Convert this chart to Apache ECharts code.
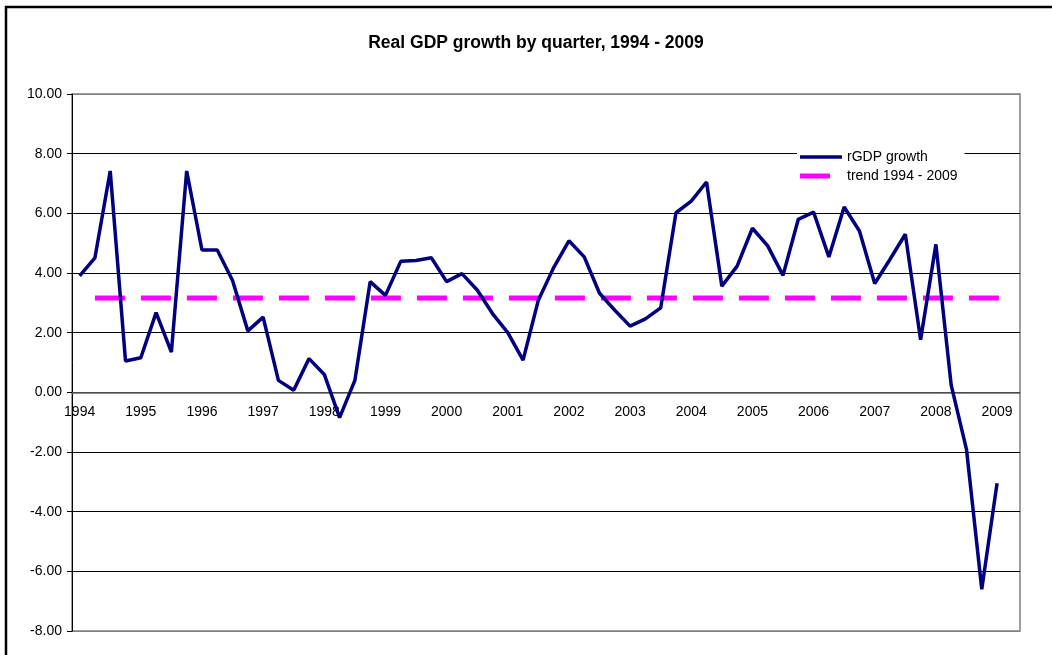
<!DOCTYPE html>
<html>
<head>
<meta charset="utf-8">
<script src="https://cdn.jsdelivr.net/npm/echarts@6/dist/echarts.min.js"></script>
<style>
  html, body { margin: 0; padding: 0; background: #fff; }
  #main { width: 1052px; height: 655px; }
</style>
</head>
<body>
<div id="main"></div>
<script>
// year labels shown under the axis (one per four quarters)
var years = ['1994', '1995', '1996', '1997', '1998', '1999', '2000', '2001',
    '2002', '2003', '2004', '2005', '2006', '2007', '2008', '2009'];
var quarterNames = ['Q1', 'Q2', 'Q3', 'Q4'];

// real GDP growth, 1994 Q1 .. 2009 Q1
var rgdpGrowth = [
    3.90, 4.51, 7.42, 1.05, 1.16, 2.67, 1.35, 7.42,
    4.77, 4.77, 3.75, 2.06, 2.52, 0.40, 0.07, 1.13,
    0.60, -0.85, 0.40, 3.71, 3.25, 4.39, 4.42, 4.51,
    3.71, 3.98, 3.43, 2.64, 2.00, 1.08, 3.09, 4.18,
    5.08, 4.54, 3.32, 2.75, 2.22, 2.46, 2.83, 6.02,
    6.41, 7.05, 3.56, 4.23, 5.50, 4.91, 3.92, 5.80,
    6.04, 4.54, 6.21, 5.41, 3.65, 4.46, 5.30, 1.76,
    4.96, 0.24, -1.91, -6.60, -3.05
];

// trend average, drawn one quarter to the right as in the original sheet
var trendValue = 3.16;

var yMin = -8, yMax = 10;

window.onload = function() {
    var chartBox = document.getElementById('main'),
        myChart = echarts.init(chartBox),
        option;

    var categories = [];
    years.forEach(function(y) {
        quarterNames.forEach(function(q) {
            categories.push(y + ' ' + q);
        });
    });
    categories = categories.slice(0, 62);

    var trendData = categories.map(function(c, i) {
        return i === 0 ? null : trendValue;
    });

    // move the category axis up to the zero line
    var gridTop = 94, gridBottom = 24;
    var plotH = 655 - gridTop - gridBottom;
    var zeroShift = plotH * (0 - yMin) / (yMax - yMin);

    option = {
        animation: false,
        backgroundColor: '#fff',
        textStyle: { fontFamily: 'Liberation Sans, Arial, sans-serif' },
        title: {
            text: 'Real GDP growth by quarter, 1994 - 2009',
            left: 531,
            textAlign: 'center',
            top: 29,
            textStyle: { fontSize: 17.5, fontWeight: 'bold', color: '#000' }
        },
        graphic: [{
            type: 'rect',
            shape: { x: 6, y: 7, width: 1200, height: 800 },
            style: { fill: 'none', stroke: '#000', lineWidth: 2.5 },
            silent: true
        }],
        legend: {
            orient: 'vertical',
            left: 797,
            top: 145,
            padding: [5, 7, 5, 3],
            backgroundColor: '#fff',
            itemWidth: 42,
            itemHeight: 14,
            itemGap: 5,
            textStyle: { fontSize: 14, color: '#000' },
            data: [
                { name: 'rGDP growth', icon: 'path://M0,0H42V3.5H0Z' },
                { name: 'trend 1994 - 2009', icon: 'path://M0,0H30V5H0Z M42,0L42,5' }
            ]
        },
        grid: {
            left: 72,
            right: 32,
            top: gridTop,
            bottom: gridBottom,
            show: true,
            borderColor: '#808080',
            borderWidth: 1.5
        },
        xAxis: {
            type: 'category',
            data: categories,
            boundaryGap: true,
            offset: -zeroShift,
            axisLine: { onZero: false, lineStyle: { color: '#666', width: 1.5 } },
            axisTick: { interval: 0, length: 4, lineStyle: { color: '#444' } },
            axisLabel: {
                interval: 3,
                margin: 13,
                fontSize: 14,
                color: '#000',
                formatter: function(v) { return v.slice(0, 4); }
            }
        },
        yAxis: {
            type: 'value',
            min: yMin,
            max: yMax,
            interval: 2,
            axisLine: { show: true, lineStyle: { color: '#000', width: 1 } },
            axisTick: { show: true, length: 5, lineStyle: { color: '#000' } },
            axisLabel: {
                margin: 10,
                fontSize: 14,
                color: '#000',
                formatter: function(v) { return v.toFixed(2); }
            },
            splitLine: {
                lineStyle: {
                    color: ['#808080', '#000', '#000', '#000', '#000',
                        '#000', '#000', '#000', '#000', '#808080'],
                    width: 1
                }
            }
        },
        series: [{
            name: 'rGDP growth',
            type: 'line',
            symbol: 'none',
            data: rgdpGrowth,
            lineStyle: { color: '#000080', width: 3.5 },
            itemStyle: { color: '#000080' },
            z: 3
        }, {
            name: 'trend 1994 - 2009',
            type: 'line',
            symbol: 'none',
            data: trendData,
            lineStyle: { color: '#ff00ff', width: 5, type: [30, 16] },
            itemStyle: { color: '#ff00ff' },
            z: 2
        }]
    };

    myChart.setOption(option);
};
</script>
</body>
</html>
